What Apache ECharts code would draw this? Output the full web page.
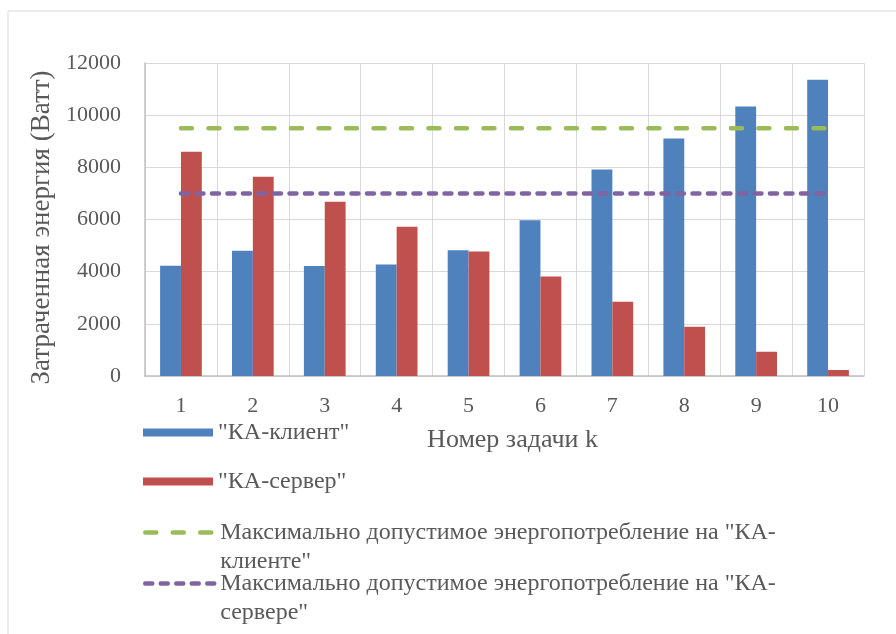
<!DOCTYPE html>
<html>
<head>
<meta charset="utf-8">
<script src="https://cdn.jsdelivr.net/npm/echarts@6/dist/echarts.min.js"></script>
<style>
  html, body { margin: 0; padding: 0; background: #fff; }
  #chart { width: 896px; height: 634px; }
</style>
</head>
<body>
<div id="chart"></div>
<script>
// Task numbers on the x axis
const categories = ['1', '2', '3', '4', '5', '6', '7', '8', '9', '10'];

// Energy spent per task, W
const clientEnergy = [4230, 4800, 4220, 4270, 4820, 5970, 7920, 9110, 10330, 11360];
const serverEnergy = [8600, 7640, 6680, 5720, 4770, 3810, 2850, 1890, 930, 230];

// Allowed consumption limits
const clientLimit = [9500, 9500, 9500, 9500, 9500, 9500, 9500, 9500, 9500, 9500];
const serverLimit = [7000, 7000, 7000, 7000, 7000, 7000, 7000, 7000, 7000, 7000];

const names = {
  client: '"КА-клиент"',
  server: '"КА-сервер"',
  clientLim: 'Максимально допустимое энергопотребление на "КА-клиенте"',
  serverLim: 'Максимально допустимое энергопотребление на "КА-сервере"'
};

// Legend labels broken the way they wrap in the legend box;
// the leading blank line keeps the icon level with the first text line.
const legendLabels = {};
legendLabels[names.client] = names.client;
legendLabels[names.server] = names.server;
legendLabels[names.clientLim] = '\nМаксимально допустимое энергопотребление на "КА-\nклиенте"';
legendLabels[names.serverLim] = '\nМаксимально допустимое энергопотребление на "КА-\nсервере"';

const FONT = 'Liberation Serif';
const TXT = '#595959';
const LH = 29;

const GREEN_DASH = [11, 16.5];
const PURPLE_DASH = [7, 8.5];

const chart = echarts.init(document.getElementById('chart'));

function legendAt(top, name, lineStyle) {
  const item = { name: name };
  if (lineStyle) {
    item.itemStyle = { opacity: 0 };
  } else {
    item.icon = 'rect';
  }
  const lg = {
    orient: 'vertical',
    left: 143,
    top: top,
    padding: 0,
    itemWidth: 70,
    itemHeight: 8,
    itemGap: 0,
    selectedMode: false,
    textStyle: { fontFamily: FONT, fontSize: 24, color: TXT, lineHeight: LH },
    formatter: function (n) { return legendLabels[n]; },
    data: [item]
  };
  if (lineStyle) lg.lineStyle = lineStyle;
  return lg;
}

chart.setOption({
  animation: false,
  backgroundColor: '#fff',
  graphic: [{
    type: 'rect',
    shape: { x: 8, y: 11, width: 900, height: 640 },
    style: { fill: 'none', stroke: '#d9d9d9', lineWidth: 1 },
    silent: true
  }],
  grid: { left: 145, right: 32, top: 63, bottom: 258 },
  legend: [
    legendAt(418, names.client, null),
    legendAt(467, names.server, null),
    legendAt(489, names.clientLim, { color: '#9bbb59', width: 4.5, type: GREEN_DASH, cap: 'round' }),
    legendAt(540, names.serverLim, { color: '#8064a2', width: 4.5, type: PURPLE_DASH, cap: 'round' })
  ],
  xAxis: {
    type: 'category',
    data: categories,
    name: 'Номер задачи k',
    nameLocation: 'middle',
    nameGap: 51,
    nameTextStyle: { fontFamily: FONT, fontSize: 26, color: TXT, padding: [0, 0, 0, 16] },
    axisLine: { lineStyle: { color: '#bfbfbf', width: 1.5 } },
    axisTick: { show: false },
    axisLabel: { fontFamily: FONT, fontSize: 22, color: TXT, margin: 19 },
    splitLine: { show: true, lineStyle: { color: '#d9d9d9', width: 1 } }
  },
  yAxis: {
    type: 'value',
    min: 0,
    max: 12000,
    interval: 2000,
    name: 'Затраченная энергия (Ватт)',
    nameLocation: 'middle',
    nameGap: 82,
    nameTextStyle: { fontFamily: FONT, fontSize: 27, color: TXT, padding: [0, 16, 0, 0] },
    axisLine: { show: true, lineStyle: { color: '#bfbfbf', width: 1.5 } },
    axisTick: { show: false },
    axisLabel: { fontFamily: FONT, fontSize: 22, color: TXT, margin: 24, formatter: function (v) { return String(v); } },
    splitLine: { lineStyle: { color: '#d9d9d9', width: 1 } }
  },
  series: [
    {
      name: names.client,
      type: 'bar',
      data: clientEnergy,
      barGap: '0%',
      barCategoryGap: '42%',
      itemStyle: { color: '#4f81bd' }
    },
    {
      name: names.server,
      type: 'bar',
      data: serverEnergy,
      itemStyle: { color: '#c0504d' }
    },
    {
      name: names.clientLim,
      type: 'line',
      data: clientLimit,
      symbol: 'none',
      lineStyle: { color: '#9bbb59', width: 4.5, type: GREEN_DASH, cap: 'round' },
      itemStyle: { color: '#9bbb59' }
    },
    {
      name: names.serverLim,
      type: 'line',
      data: serverLimit,
      symbol: 'none',
      lineStyle: { color: '#8064a2', width: 4.5, type: PURPLE_DASH, cap: 'round' },
      itemStyle: { color: '#8064a2' }
    }
  ]
});
</script>
</body>
</html>
